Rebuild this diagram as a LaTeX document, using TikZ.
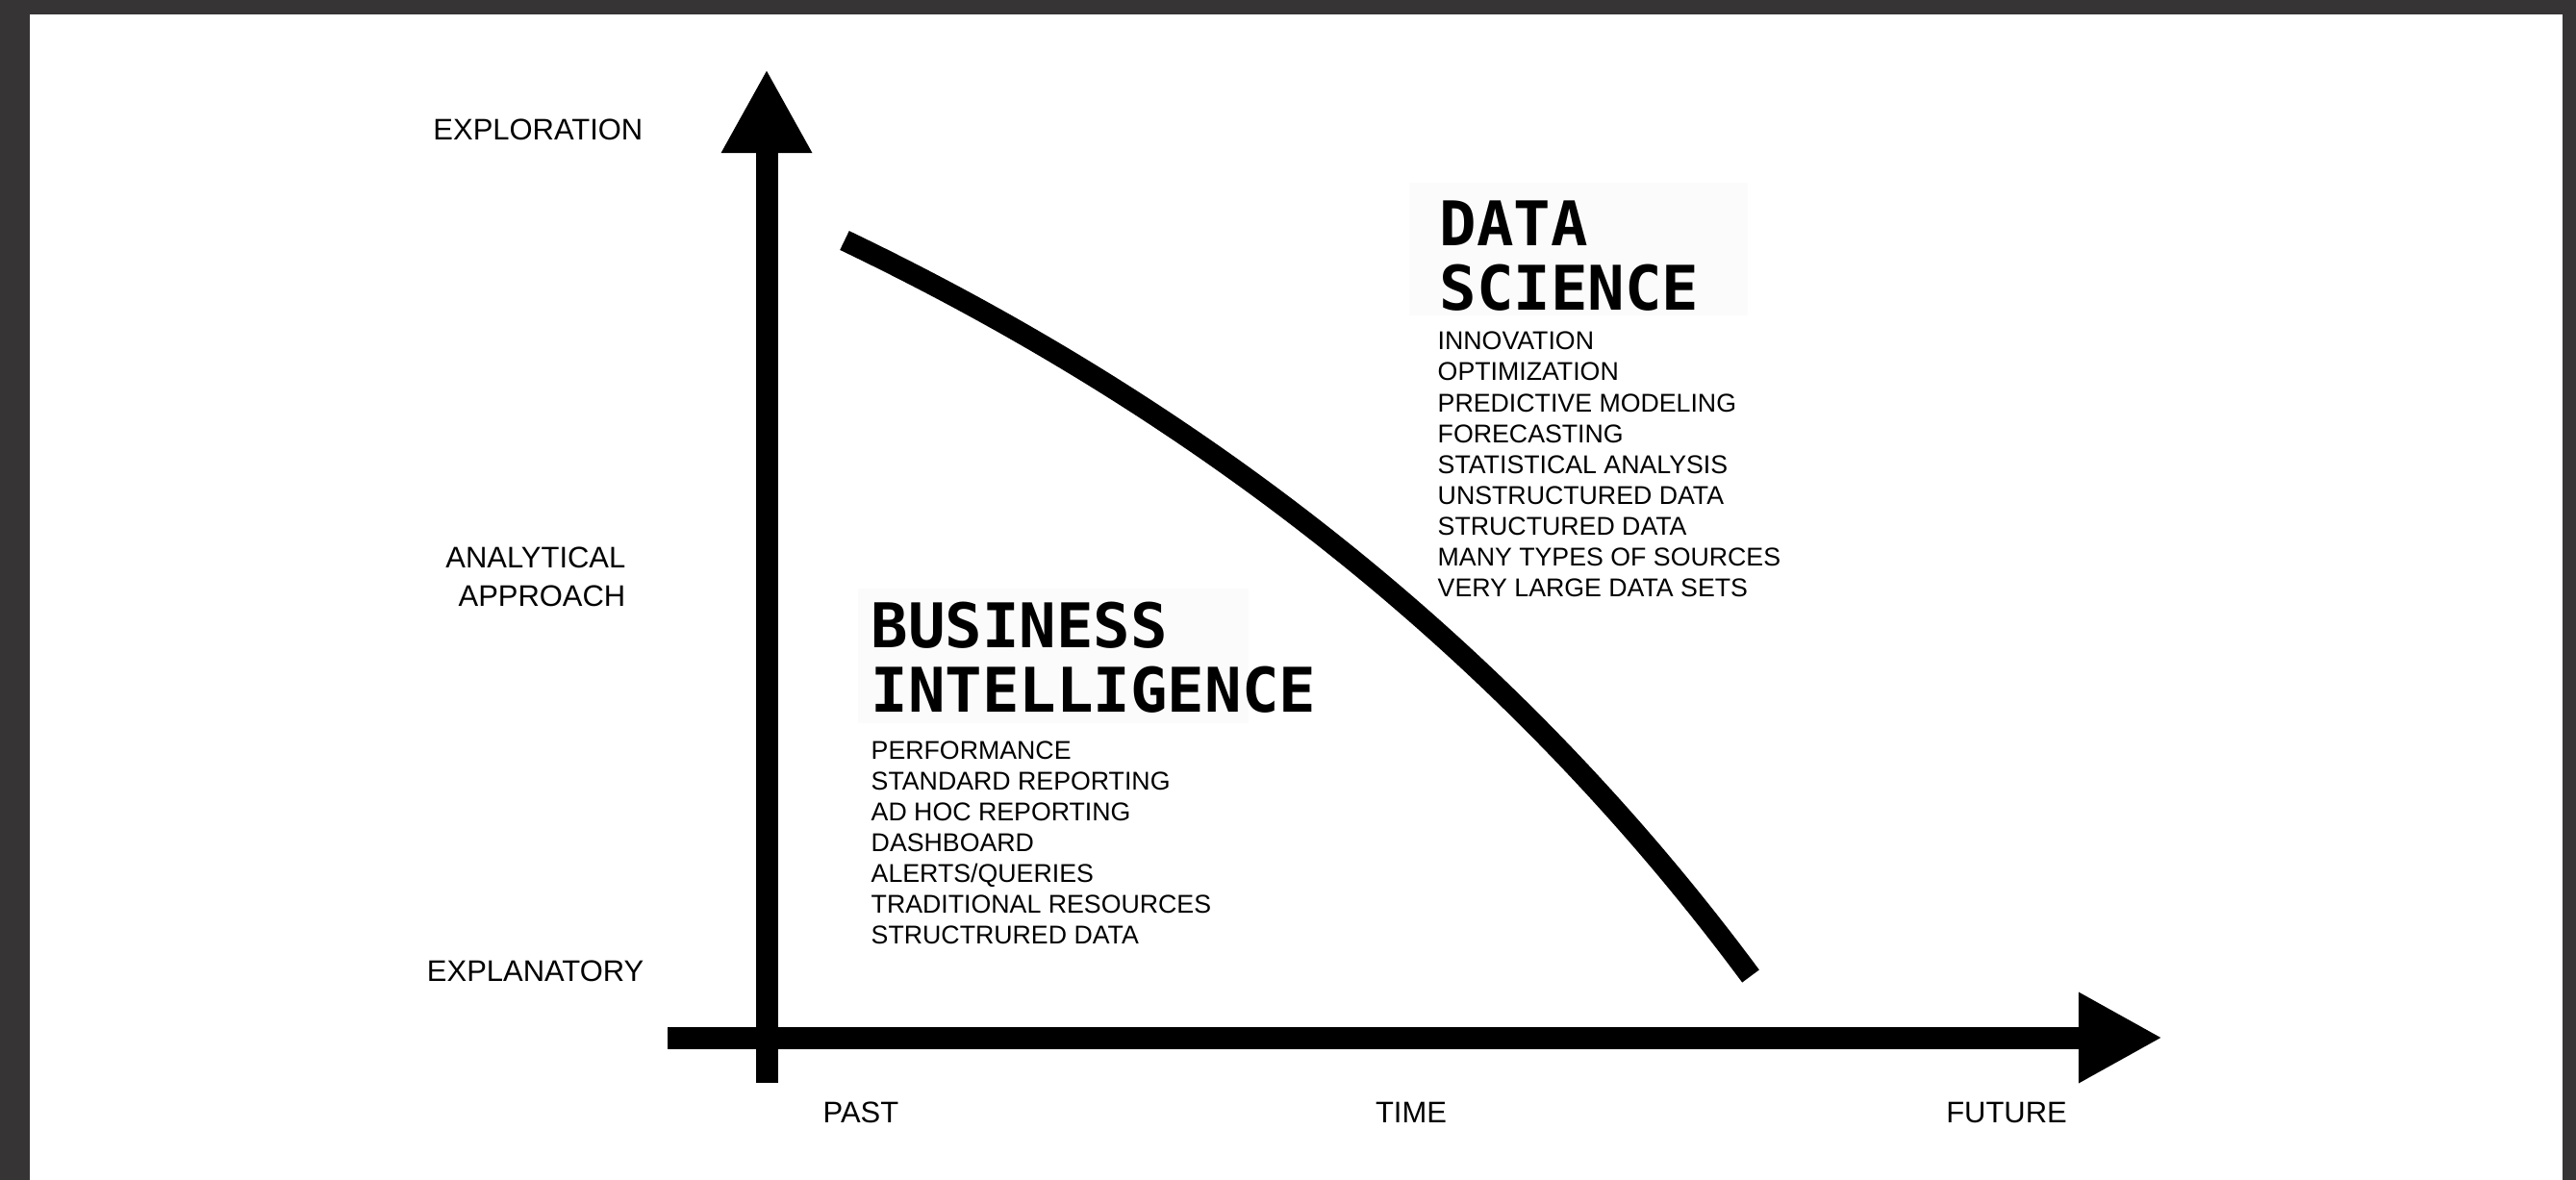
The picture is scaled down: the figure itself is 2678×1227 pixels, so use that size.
\documentclass[tikz,border=0pt]{standalone}
\usepackage{fontspec}
\setmainfont{Liberation Sans}
\newfontfamily\titlefont{DejaVu Sans Mono}
\usetikzlibrary{arrows.meta}
\definecolor{framegray}{RGB}{54,52,53}
\definecolor{titleback}{RGB}{251,251,251}

\begin{document}
\begin{tikzpicture}[x=0.01cm, y=-0.01cm,
    axis/.style={line width=2.3mm, -{Triangle[length=8.7mm, width=8.8mm]}},
    axislabel/.style={inner sep=0, font=\fontsize{8.8}{11.1}\selectfont},
    heading/.style={inner sep=0, anchor=base west, align=left, font=\titlefont\bfseries\fontsize{18.2}{18.8}\selectfont},
    itemlist/.style={inner sep=0, anchor=base west, align=left, font=\fontsize{7.6}{9.1}\selectfont}]
    \useasboundingbox (0,0) rectangle (2678,1227);
    \fill[framegray] (0,0) rectangle (2678,1227);
    \fill[white] (31,15) rectangle (2664,1227);
    \fill[titleback] (1465,190) rectangle (1817,328);
    \fill[titleback] (892,612) rectangle (1298,752);

    \coordinate (ytop) at (797,72);
    \coordinate (ybottom) at (797,1126);
    \coordinate (xleft) at (694,1079);
    \coordinate (xright) at (2248,1079);

    \node[axislabel, anchor=base east] (explo) at (669,145) {EXPLORATION};
    \node[axislabel, anchor=base east, align=right] (approach) at (651,630) {ANALYTICAL\\APPROACH};
    \node[axislabel, anchor=base east] (expla) at (670,1020) {EXPLANATORY};
    \node[axislabel, anchor=base] (past) at (895,1167) {PAST};
    \node[axislabel, anchor=base] (time) at (1467,1167) {TIME};
    \node[axislabel, anchor=base] (future) at (2086,1167) {FUTURE};

    \node[heading] (ds) at (1496,322) {DATA\\SCIENCE};
    \node[itemlist] (dslist) at (1494,620) {INNOVATION\\OPTIMIZATION\\PREDICTIVE MODELING\\FORECASTING\\STATISTICAL ANALYSIS\\UNSTRUCTURED DATA\\STRUCTURED DATA\\MANY TYPES OF SOURCES\\VERY LARGE DATA SETS};

    \node[heading] (bi) at (905,740) {BUSINESS\\INTELLIGENCE};
    \node[itemlist] (bilist) at (905,981) {PERFORMANCE\\STANDARD REPORTING\\AD HOC REPORTING\\DASHBOARD\\ALERTS/QUERIES\\TRADITIONAL RESOURCES\\STRUCTRURED DATA};

    \draw[axis] (ybottom) -- (ytop);
    \draw[axis] (xleft) -- (xright);
    \draw[line width=2.2mm] (878,250) .. controls (1266,436) and (1580,691) .. (1820,1015);
\end{tikzpicture}
\end{document}
